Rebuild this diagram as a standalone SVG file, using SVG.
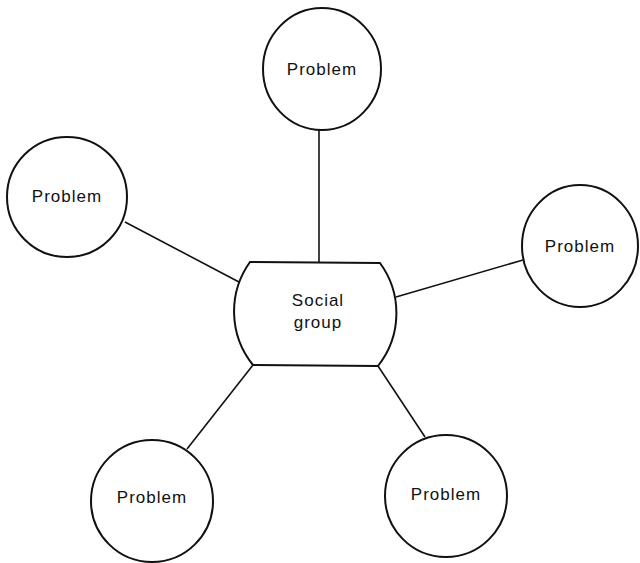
<svg xmlns="http://www.w3.org/2000/svg" width="640" height="563" viewBox="0 0 640 563">
<style>
.node{fill:#fff;stroke:#111;stroke-width:2}
.lbl{font-family:"Liberation Sans",Arial,sans-serif;font-size:17px;letter-spacing:1px;fill:#111;text-anchor:middle}
.conn line{stroke:#111;stroke-width:1.6}
</style>
<rect width="640" height="563" fill="#fff"/>
<g id="connectors" class="conn">
<line x1="319" y1="130" x2="319" y2="262"/>
<line x1="125" y1="222" x2="239" y2="282"/>
<line x1="523" y1="260" x2="396" y2="297"/>
<line x1="253" y1="365" x2="187" y2="449"/>
<line x1="378" y1="366" x2="425" y2="437"/>
</g>
<g id="social-group">
<path class="node" d="M250,262 L380,263 A85,85 0 0 1 378,366 L253,365 A85,85 0 0 1 250,262 Z"/>
<text class="lbl" x="318" y="306">Social</text>
<text class="lbl" x="318" y="328">group</text>
</g>
<g id="problem-top">
<ellipse class="node" cx="322" cy="69" rx="59" ry="61"/>
<text class="lbl" x="322" y="75">Problem</text>
</g>
<g id="problem-left">
<circle class="node" cx="67" cy="197" r="60"/>
<text class="lbl" x="67" y="202">Problem</text>
</g>
<g id="problem-right">
<ellipse class="node" cx="580" cy="246" rx="58" ry="61"/>
<text class="lbl" x="580" y="252">Problem</text>
</g>
<g id="problem-bottom-left">
<circle class="node" cx="152" cy="501" r="61"/>
<text class="lbl" x="152" y="503">Problem</text>
</g>
<g id="problem-bottom-right">
<circle class="node" cx="446" cy="496" r="61"/>
<text class="lbl" x="446" y="500">Problem</text>
</g>
</svg>
